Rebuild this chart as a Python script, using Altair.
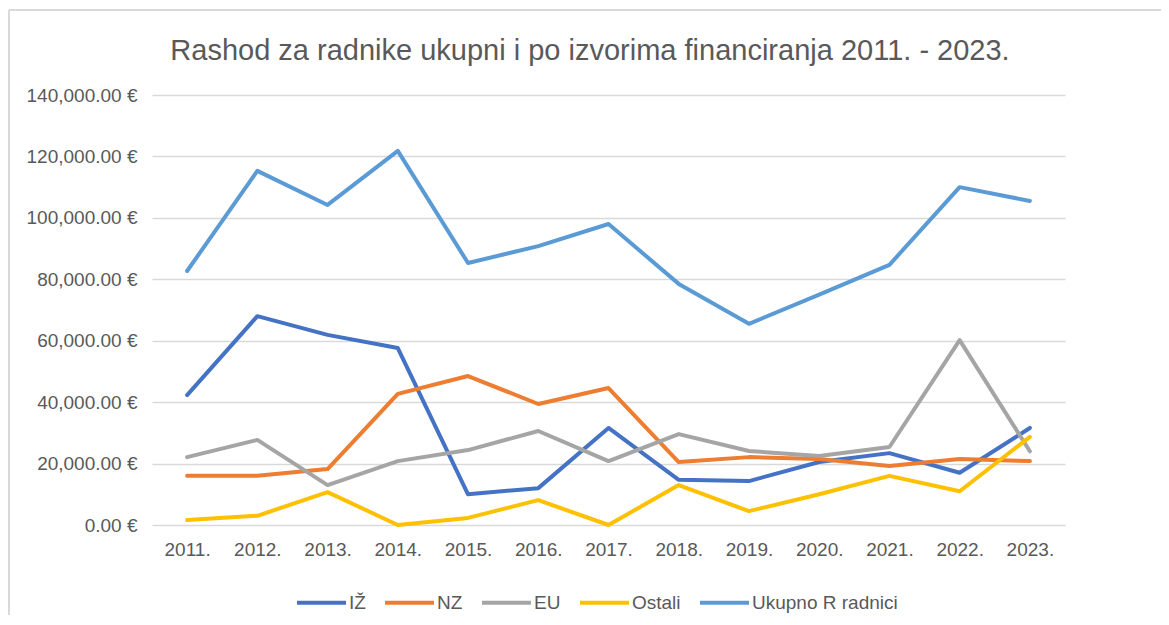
import altair as alt
import pandas as pd

years = ["2011.", "2012.", "2013.", "2014.", "2015.", "2016.", "2017.",
         "2018.", "2019.", "2020.", "2021.", "2022.", "2023."]
series_names = ["IŽ", "NZ", "EU", "Ostali", "Ukupno R radnici"]
iz = [42300, 68000, 61900, 57600, 10000, 12000, 31600, 14700, 14300, 20500, 23400, 17000, 31600]
nz = [16000, 16000, 18200, 42700, 48500, 39400, 44600, 20500, 22100, 21500, 19200, 21500, 20800]
eu = [22100, 27700, 13000, 20800, 24400, 30600, 20800, 29600, 24100, 22500, 25400, 60200, 24000]
ostali = [1600, 3000, 10700, 0, 2300, 8100, 0, 13000, 4500, 10000, 16000, 11000, 28700]
ukupno = [82700, 115300, 104200, 121800, 85300, 90800, 98000, 78500, 65500, 75000, 84700, 110000, 105500]
colors = ["#4472C4", "#ED7D31", "#A5A5A5", "#FFC000", "#5B9BD5"]
title_text = "Rashod za radnike ukupni i po izvorima financiranja 2011. - 2023."

rows = []
for name, vals in zip(series_names, [iz, nz, eu, ostali, ukupno]):
    for y, v in zip(years, vals):
        rows.append({"Godina": y, "Iznos": v, "Serija": name,
                     "Red": series_names.index(name)})
df = pd.DataFrame(rows)

FONT = "Liberation Sans"
GRAY = "#595959"
BORDER = "#D9D9D9"

lines = alt.Chart(df).mark_line(strokeWidth=4, strokeCap="round", strokeJoin="round").encode(
    x=alt.X("Godina:O", sort=years, title=None,
            scale=alt.Scale(padding=0.5),
            axis=alt.Axis(labelAngle=0, ticks=False, domain=False, labelPadding=15,
                          labelFontSize=19, labelColor=GRAY, labelFont=FONT)),
    y=alt.Y("Iznos:Q", title=None,
            scale=alt.Scale(domain=[0, 140000], nice=False),
            axis=alt.Axis(values=[0, 20000, 40000, 60000, 80000, 100000, 120000, 140000],
                          labelExpr="format(datum.value, ',.2f') + ' €'",
                          ticks=False, domain=False, labelPadding=15,
                          gridColor=BORDER, gridWidth=1.6,
                          labelFontSize=19, labelColor=GRAY, labelFont=FONT)),
    color=alt.Color("Serija:N", sort=series_names,
                    scale=alt.Scale(domain=series_names, range=colors),
                    legend=alt.Legend(title=None, orient="none", direction="horizontal",
                                      legendX=143, legendY=481,
                                      symbolType="stroke", symbolStrokeWidth=4,
                                      symbolSize=2400, columnPadding=11, labelOffset=1,
                                      labelFontSize=19, labelColor=GRAY, labelFont=FONT)),
    order=alt.Order("Red:Q"),
)

frame_data = alt.Data(values=[{"t": title_text}])
left_border = alt.Chart(frame_data).mark_rule(color=BORDER, strokeWidth=2).encode(
    x=alt.value(-143), y=alt.value(-85), y2=alt.value(540))
top_border = alt.Chart(frame_data).mark_rule(color=BORDER, strokeWidth=2).encode(
    x=alt.value(-143), x2=alt.value(1030), y=alt.value(-85))
title = alt.Chart(frame_data).mark_text(
    font=FONT, fontSize=29, color=GRAY, align="center", baseline="alphabetic"
).encode(text="t:N", x=alt.value(438), y=alt.value(-35))

chart = alt.layer(left_border, top_border, title, lines).properties(
    width=913, height=430,
    padding={"left": 144, "top": 87, "right": 96, "bottom": 90},
    autosize=alt.AutoSizeParams(type="none"),
).configure_view(stroke=None)

chart.save("out.html", embed_options={"renderer": "svg", "actions": False})
